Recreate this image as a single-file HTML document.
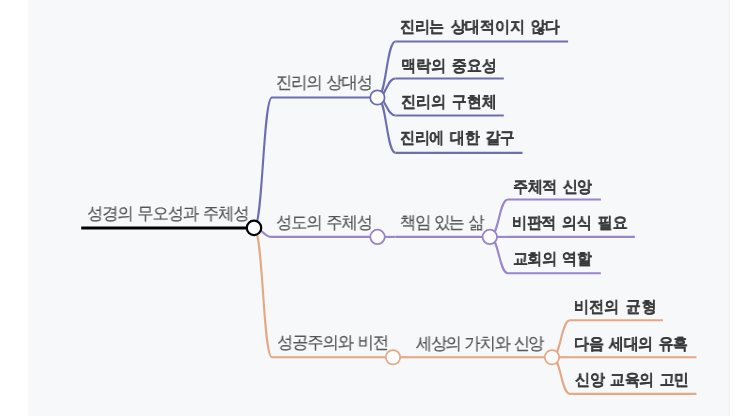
<!DOCTYPE html>
<html><head><meta charset="utf-8"><style>
html,body{margin:0;padding:0;width:743px;height:416px;overflow:hidden;background:#fff}
.bg{position:absolute;left:27.5px;top:0;width:700.5px;height:416px;background:#f7f8fa;border-right:2px solid #f3f4f5}
svg{position:absolute;left:0;top:0}
.t{position:absolute;font-family:"Liberation Sans",sans-serif;line-height:20px;white-space:pre;will-change:transform;transform-origin:0 0}
.w400{font-weight:400;font-size:16.8px;word-spacing:1.2px;transform:scaleX(0.95);-webkit-text-stroke:0.2px currentColor}
.w700{font-weight:700;font-size:15.8px;word-spacing:2.2px;transform:scaleX(0.94);-webkit-text-stroke:0.15px currentColor}
</style></head><body>
<div class="bg"></div>
<svg width="743" height="416" viewBox="0 0 743 416">
<path d="M254.0,227.9C263.0,227.9 263.0,97.5 272,97.5" stroke="#6d6db2" stroke-width="2.1" fill="none"/>
<path d="M254.0,227.9C263.0,227.9 263.0,236.9 272,236.9" stroke="#9a84cc" stroke-width="2.1" fill="none"/>
<path d="M254.0,227.9C263.0,227.9 263.0,357.24 272,357.24" stroke="#e4a884" stroke-width="2.1" fill="none"/>
<path d="M377.4,97.5C386.45,97.5 386.45,41.5 395.5,41.5" stroke="#6d6db2" stroke-width="2.1" fill="none"/>
<path d="M377.4,97.5C386.45,97.5 386.45,78.57 395.5,78.57" stroke="#6d6db2" stroke-width="2.1" fill="none"/>
<path d="M377.4,97.5C386.45,97.5 386.45,115.46 395.5,115.46" stroke="#6d6db2" stroke-width="2.1" fill="none"/>
<path d="M377.4,97.5C386.45,97.5 386.45,152.85 395.5,152.85" stroke="#6d6db2" stroke-width="2.1" fill="none"/>
<path d="M377.5,236.9C386.5,236.9 386.5,236.9 395.5,236.9" stroke="#9a84cc" stroke-width="2.1" fill="none"/>
<path d="M489.8,236.9C498.9,236.9 498.9,199.57 508,199.57" stroke="#9a84cc" stroke-width="2.1" fill="none"/>
<path d="M489.8,236.9C498.9,236.9 498.9,236.9 508,236.9" stroke="#9a84cc" stroke-width="2.1" fill="none"/>
<path d="M489.8,236.9C498.9,236.9 498.9,273.24 508,273.24" stroke="#9a84cc" stroke-width="2.1" fill="none"/>
<path d="M393.0,357.24C402.0,357.24 402.0,357.24 411,357.24" stroke="#e4a884" stroke-width="2.1" fill="none"/>
<path d="M552.0,357.24C561.0,357.24 561.0,320.24 570,320.24" stroke="#e4a884" stroke-width="2.1" fill="none"/>
<path d="M552.0,357.24C561.0,357.24 561.0,357.24 570,357.24" stroke="#e4a884" stroke-width="2.1" fill="none"/>
<path d="M552.0,357.24C561.0,357.24 561.0,393.9 570,393.9" stroke="#e4a884" stroke-width="2.1" fill="none"/>
<path d="M81.2,227.9H254.0" stroke="#000" stroke-width="3" fill="none"/>
<path d="M272,97.5H377.4" stroke="#6d6db2" stroke-width="2.1" fill="none"/>
<path d="M272,236.9H377.5" stroke="#9a84cc" stroke-width="2.1" fill="none"/>
<path d="M272,357.24H393.0" stroke="#e4a884" stroke-width="2.1" fill="none"/>
<path d="M395.5,41.5H568.1" stroke="#6d6db2" stroke-width="2.1" fill="none"/>
<path d="M395.5,78.57H503.8" stroke="#6d6db2" stroke-width="2.1" fill="none"/>
<path d="M395.5,115.46H503.8" stroke="#6d6db2" stroke-width="2.1" fill="none"/>
<path d="M395.5,152.85H522.5" stroke="#6d6db2" stroke-width="2.1" fill="none"/>
<path d="M395.5,236.9H489.8" stroke="#9a84cc" stroke-width="2.1" fill="none"/>
<path d="M508,199.57H600.9" stroke="#9a84cc" stroke-width="2.1" fill="none"/>
<path d="M508,236.9H634.8" stroke="#9a84cc" stroke-width="2.1" fill="none"/>
<path d="M508,273.24H600.8" stroke="#9a84cc" stroke-width="2.1" fill="none"/>
<path d="M411,357.24H552.0" stroke="#e4a884" stroke-width="2.1" fill="none"/>
<path d="M570,320.24H663.0" stroke="#e4a884" stroke-width="2.1" fill="none"/>
<path d="M570,357.24H696.5" stroke="#e4a884" stroke-width="2.1" fill="none"/>
<path d="M570,393.9H696.5" stroke="#e4a884" stroke-width="2.1" fill="none"/>
<circle cx="254.0" cy="227.9" r="7.2" stroke="#000" stroke-width="2.2" fill="#fff"/>
<circle cx="377.4" cy="97.5" r="7.2" stroke="#6d6db2" stroke-width="1.8" fill="#fff"/>
<circle cx="377.5" cy="236.9" r="7.2" stroke="#9a84cc" stroke-width="1.8" fill="#fff"/>
<circle cx="393.0" cy="357.24" r="7.2" stroke="#e4a884" stroke-width="1.8" fill="#fff"/>
<circle cx="489.8" cy="236.9" r="7.2" stroke="#9a84cc" stroke-width="1.8" fill="#fff"/>
<circle cx="552.0" cy="357.24" r="7.2" stroke="#e4a884" stroke-width="1.8" fill="#fff"/>
</svg>
<div class="t w400" style="left:87.40px;top:203.60px;color:#555555;letter-spacing:-0.996px">성경의 무오성과 주체성</div>
<div class="t w400" style="left:276.41px;top:73.43px;color:#555555;letter-spacing:-1.032px">진리의 상대성</div>
<div class="t w400" style="left:276.40px;top:213.29px;color:#555555;letter-spacing:-1.055px">성도의 주체성</div>
<div class="t w400" style="left:276.68px;top:333.43px;color:#555555;letter-spacing:-0.925px">성공주의와 비전</div>
<div class="t w700" style="left:400.46px;top:17.49px;color:#393939;letter-spacing:-0.260px">진리는 상대적이지 않다</div>
<div class="t w700" style="left:400.53px;top:55.58px;color:#393939;letter-spacing:-0.029px">맥락의 중요성</div>
<div class="t w700" style="left:400.50px;top:91.60px;color:#393939;letter-spacing:-0.130px">진리의 구현체</div>
<div class="t w700" style="left:400.46px;top:128.48px;color:#393939;letter-spacing:-0.354px">진리에 대한 갈구</div>
<div class="t w400" style="left:400.17px;top:213.45px;color:#555555;letter-spacing:-1.362px">책임 있는 삶</div>
<div class="t w700" style="left:512.67px;top:176.74px;color:#393939;letter-spacing:-0.453px">주체적 신앙</div>
<div class="t w700" style="left:512.33px;top:212.93px;color:#393939;letter-spacing:-0.300px">비판적 의식 필요</div>
<div class="t w700" style="left:512.67px;top:249.29px;color:#393939;letter-spacing:-0.582px">교회의 역할</div>
<div class="t w400" style="left:416.45px;top:333.56px;color:#555555;letter-spacing:-1.366px">세상의 가치와 신앙</div>
<div class="t w700" style="left:574.39px;top:296.78px;color:#393939;letter-spacing:0.211px">비전의 균형</div>
<div class="t w700" style="left:574.43px;top:333.84px;color:#393939;letter-spacing:-0.496px">다음 세대의 유혹</div>
<div class="t w700" style="left:575.45px;top:369.87px;color:#393939;letter-spacing:-0.469px">신앙 교육의 고민</div>
</body></html>
